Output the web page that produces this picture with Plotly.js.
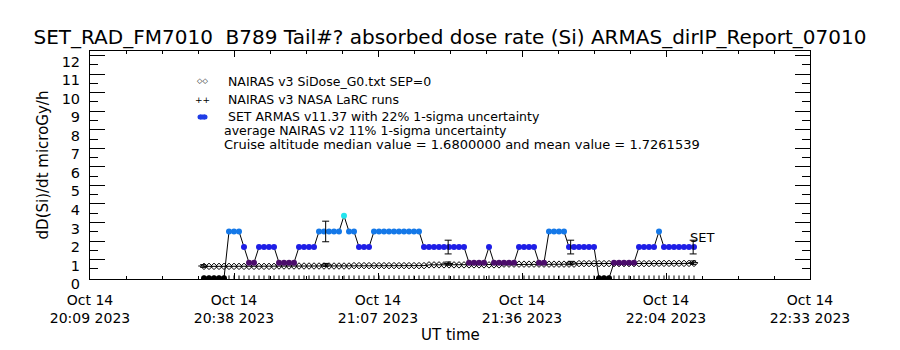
<!DOCTYPE html>
<html><head><meta charset="utf-8">
<script src="https://cdn.plot.ly/plotly-3.0.1.min.js"></script>
<style>html,body{margin:0;padding:0;background:#fff}#chart{width:900px;height:350px}</style>
</head><body><div id="chart"></div>
<script>
// ---- data ----
const axisStart = '2023-10-14 20:09:12';
const axisEnd = '2023-10-14 22:33:12';
const xTickDates = ['Oct 14', 'Oct 14', 'Oct 14', 'Oct 14', 'Oct 14', 'Oct 14'];
const xTickTimes = ['20:09 2023', '20:38 2023', '21:07 2023', '21:36 2023', '22:04 2023', '22:33 2023'];
const yTickLabels = ['0','1','2','3','4','5','6','7','8','9','10','11','12'];

// SET ARMAS, one sample per minute starting 20:32 UT
const armasStart = '2023-10-14 20:32:00';
const armasStepMs = 60000;
const armasDose = [
  0,0,0,0,0,
  2.52,2.52,2.52,
  1.68,
  0.84,0.84,
  1.68,1.68,1.68,1.68,
  0.84,0.84,0.84,0.84,
  1.68,1.68,1.68,1.68,
  2.52,2.52,2.52,2.52,2.52,
  3.36,
  2.52,2.52,
  1.68,1.68,1.68,
  2.52,2.52,2.52,2.52,2.52,2.52,2.52,2.52,2.52,2.52,
  1.68,1.68,1.68,1.68,1.68,1.68,1.68,1.68,1.68,
  0.84,0.84,0.84,0.84,
  1.68,
  0.84,0.84,0.84,0.84,0.84,
  1.68,1.68,1.68,1.68,
  0.84,0.84,
  2.52,2.52,2.52,2.52,
  1.68,1.68,1.68,1.68,1.68,1.68,
  0,0,0,
  0.84,0.84,0.84,0.84,0.84,
  1.68,1.68,1.68,1.68,
  2.52,
  1.68,1.68,1.68,1.68,1.68,1.68,1.68
];

// NAIRAS v3 SiDose_G0, same one-minute times
const nairasDose = [
  0.64,0.64,0.64,0.64,0.64,0.64,0.64,0.64,0.64,0.64,0.64,0.64,0.64,0.64,0.64,
  0.66,0.66,0.66,0.66,0.66,0.66,0.66,0.66,0.66,0.66,0.66,0.66,0.66,0.66,0.66,
  0.68,0.68,0.68,0.68,0.68,0.68,0.68,0.68,0.68,0.68,0.68,0.68,0.68,0.68,0.68,
  0.72,0.72,0.72,0.72,0.72,0.72,0.72,0.72,0.72,0.72,0.72,0.72,0.72,0.72,0.72,
  0.76,0.76,0.76,0.76,0.76,0.76,0.76,0.76,0.76,0.76,0.76,0.76,0.76,0.76,0.76,
  0.79,0.79,0.79,0.79,0.79,0.79,0.79,0.79,0.79,0.79,0.79,0.79,0.79,0.79,0.79,
  0.80,0.80,0.80,0.80,0.80,0.80,0.80,0.80,0.80
];

// NAIRAS v3 NASA LaRC runs
const larcTimes = ['2023-10-14 20:31:50','2023-10-14 20:56:20','2023-10-14 21:20:50','2023-10-14 21:45:20','2023-10-14 22:09:50'];
const larcDose = [0.66, 0.72, 0.79, 0.82, 0.84];
const larcErrPct = 11;

// ARMAS value with 22% uncertainty bar at the LaRC times
const armasErrTimes = ['2023-10-14 20:56:20','2023-10-14 21:20:50','2023-10-14 21:45:20','2023-10-14 22:09:50'];
const armasErrDose = [2.52, 1.68, 1.68, 1.68];
const armasErrPct = 22;

const legendLines = [
  'NAIRAS v3 SiDose_G0.txt SEP=0',
  'NAIRAS v3 NASA LaRC runs',
  'SET ARMAS v11.37 with 22% 1-sigma uncertainty',
  'average NAIRAS v2 11% 1-sigma uncertainty',
  'Cruise altitude median value = 1.6800000 and mean value = 1.7261539'
];
const titleText = 'SET_RAD_FM7010  B789 Tail#? absorbed dose rate (Si) ARMAS_dirIP_Report_07010';

// ---- drawing ----
const FONT = 'DejaVu Sans';
const t0 = new Date(axisStart.replace(' ', 'T') + 'Z').getTime();
const t1 = new Date(axisEnd.replace(' ', 'T') + 'Z').getTime();
function fmt(ms){ return new Date(ms).toISOString().replace('T',' ').replace('Z',''); }
const nT = xTickTimes.length;
const xTickVals = xTickTimes.map((_, i) => fmt(t0 + (t1 - t0) * i / (nT - 1)));
const xTickText = xTickTimes.map((s, i) => xTickDates[i] + '<br>' + s);

const levelScale = [
  [0,'#000000'],[0.125,'#000000'],
  [0.125,'#4b0c6b'],[0.375,'#4b0c6b'],
  [0.375,'#1e1ee6'],[0.625,'#1e1ee6'],
  [0.625,'#1478e8'],[0.875,'#1478e8'],
  [0.875,'#22e4ee'],[1,'#22e4ee']
];

const traces = [
  { // sample-time marks along the time axis
    type:'scatter', mode:'markers', x0: armasStart, dx: armasStepMs, y: armasDose.map(() => 0),
    marker:{symbol:'line-ns-open', size:4, color:'#000', line:{width:1, color:'#444'}},
    cliponaxis:true, hoverinfo:'skip'
  },
  { // NAIRAS G0
    type:'scatter', mode:'lines+markers', x0: armasStart, dx: armasStepMs, y: nairasDose,
    line:{color:'#000', width:1}, marker:{symbol:'diamond-open', size:5, color:'#000', line:{width:1}},
    hoverinfo:'skip'
  },
  { // ARMAS
    type:'scatter', mode:'lines+markers', x0: armasStart, dx: armasStepMs, y: armasDose,
    line:{color:'#000', width:1},
    marker:{symbol:'circle', size:6, color: armasDose, colorscale: levelScale, cmin:0, cmax:3.36, line:{width:0}},
    cliponaxis:true, hoverinfo:'skip'
  },
  { // ARMAS error bars
    type:'scatter', mode:'markers', x: armasErrTimes, y: armasErrDose,
    marker:{size:1, color:'rgba(0,0,0,0)'},
    error_y:{type:'percent', value: armasErrPct, color:'#000', thickness:1, width:3.5},
    hoverinfo:'skip'
  },
  { // LaRC
    type:'scatter', mode:'markers', x: larcTimes, y: larcDose,
    marker:{symbol:'line-ew-open', size:7, color:'#000', line:{width:1, color:'#000'}},
    error_y:{type:'percent', value: larcErrPct, color:'#000', thickness:1, width:3},
    hoverinfo:'skip'
  }
];

const px2x = p => (p - 90) / 720;
const px2y = p => 1 - (p - 51) / 228;

const yTickVals = yTickLabels.map(Number);
const annotations = [];
const legY = [81, 99, 116, 130, 144];
const legX = [226, 226, 226, 222, 222];
legendLines.forEach((s, i) => annotations.push({
  xref:'paper', yref:'paper', x:px2x(legX[i]), y:px2y(legY[i]),
  xanchor:'left', yanchor:'middle', showarrow:false, text:s,
  font:{family:FONT, size:(i === 4 ? 13 : 12.5), color:'#000'}
}));
// legend symbols
annotations.push({xref:'paper', yref:'paper', x:px2x(202), y:px2y(81), xanchor:'center', yanchor:'middle', showarrow:false, text:'◇◇', font:{family:FONT, size:7, color:'#000'}});
annotations.push({xref:'paper', yref:'paper', x:px2x(202), y:px2y(100), xanchor:'center', yanchor:'middle', showarrow:false, text:'++', font:{family:FONT, size:9, color:'#000'}});
// SET series label
annotations.push({xref:'x', yref:'y', x: fmt(new Date(armasStart.replace(' ','T')+'Z').getTime() + armasStepMs*(armasDose.length-1)), y: armasDose[armasDose.length-1],
  xanchor:'left', yanchor:'middle', xshift:-6, yshift:10, showarrow:false, text:'SET', font:{family:FONT, size:13, color:'#000'}});
// UT time
annotations.push({xref:'paper', yref:'paper', x:0.5, y:px2y(335), xanchor:'center', yanchor:'middle', showarrow:false, text:'UT time', font:{family:FONT, size:15, color:'#000'}});

// ARMAS legend capsule symbol
const capCol = '#1e3ce6';
const shapes = [
  {type:'circle', xref:'paper', yref:'paper', x0:px2x(197.5), x1:px2x(202.5), y0:px2y(119.5), y1:px2y(114.5), fillcolor:capCol, line:{width:0}},
  {type:'circle', xref:'paper', yref:'paper', x0:px2x(202.5), x1:px2x(207.5), y0:px2y(119.5), y1:px2y(114.5), fillcolor:capCol, line:{width:0}},
  {type:'rect', xref:'paper', yref:'paper', x0:px2x(200), x1:px2x(205), y0:px2y(119.5), y1:px2y(114.5), fillcolor:capCol, line:{width:0}}
];

const layout = {
  width:900, height:350,
  margin:{l:90, r:90, t:51, b:71, pad:0},
  paper_bgcolor:'#fff', plot_bgcolor:'#fff',
  showlegend:false,
  title:{text:titleText, x:0.5, xanchor:'center', xref:'paper', y:1-37/350, yref:'container', yanchor:'middle',
    font:{family:FONT, size:20, color:'#000'}},
  xaxis:{
    type:'date', range:[axisStart, axisEnd], tickmode:'array', tickvals:xTickVals, ticktext:xTickText,
    ticks:'inside', ticklen:6, tickcolor:'#000', tickwidth:1, showline:true, linecolor:'#000', linewidth:1,
    mirror:'ticks', showgrid:false, zeroline:false, ticklabelstandoff:8,
    tickfont:{family:FONT, size:14, color:'#000'},
    minor:{dtick: 432000, tick0: axisStart, ticks:'inside', ticklen:3, tickcolor:'#000', showgrid:false}
  },
  yaxis:{
    range:[-0.04, 12.24], tickmode:'array', tickvals:yTickVals, ticktext:yTickLabels,
    ticks:'inside', ticklen:15, tickcolor:'#000', tickwidth:1, showline:true, linecolor:'#000', linewidth:1,
    mirror:'ticks', showgrid:false, zeroline:false, ticklabelshift:6, ticklabelstandoff:6,
    tickfont:{family:FONT, size:14.5, color:'#000'},
    title:{text:'dD(Si)/dt microGy/h', font:{family:FONT, size:15, color:'#000'}, standoff:9},
    minor:{dtick:0.5, tick0:0, ticks:'inside', ticklen:8, tickcolor:'#000', showgrid:false}
  },
  shapes: shapes,
  annotations: annotations
};

Plotly.newPlot('chart', traces, layout, {staticPlot:true, displayModeBar:false});
</script>
</body></html>
